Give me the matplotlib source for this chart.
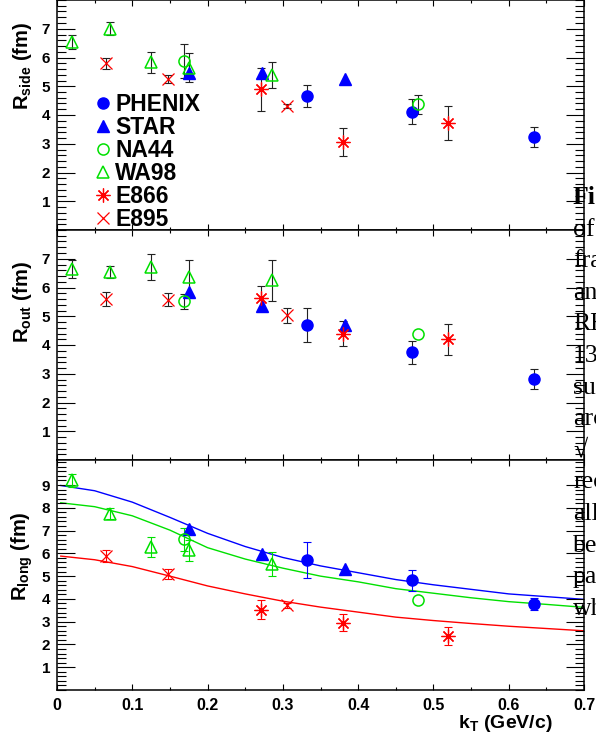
import numpy as np
import matplotlib
matplotlib.use('Agg')
import matplotlib.pyplot as plt
from matplotlib.ticker import MultipleLocator

plt.rcParams['font.family'] = ['Liberation Sans', 'DejaVu Sans']
plt.rcParams['font.weight'] = 'bold'
plt.rcParams['mathtext.fontset'] = 'custom'
plt.rcParams['mathtext.rm'] = 'Liberation Sans:bold'
plt.rcParams['mathtext.bf'] = 'Liberation Sans:bold'

# kT values (GeV/c) for each experiment
phenix_kt = [0.332, 0.471, 0.633]
star_kt = [0.175, 0.272, 0.383]
na44_kt = [0.169, 0.479]
wa98_kt = [0.020, 0.070, 0.125, 0.175, 0.285]
e866_kt = [0.271, 0.380, 0.520]
e895_kt = [0.065, 0.148, 0.305]

# R_side (fm)
phenix_side = [4.67, 4.12, 3.23]
phenix_side_err = [0.39, 0.44, 0.35]
star_side = [5.47, 5.45, 5.25]
na44_side = [5.88, 4.38]
na44_side_err = [0.58, 0.33]
wa98_side = [6.55, 7.00, 5.83, 5.65, 5.39]
wa98_side_err = [0.25, 0.22, 0.37, 0.5, 0.46]
e866_side = [4.89, 3.06, 3.73]
e866_side_err = [0.76, 0.49, 0.59]
e895_side = [5.80, 5.25, 4.31]
e895_side_err = [0.2, 0.15, 0.06]

# R_out (fm)
phenix_out = [4.70, 3.75, 2.81]
phenix_out_err = [0.59, 0.40, 0.34]
star_out = [5.84, 5.34, 4.70]
na44_out = [5.52, 4.39]
na44_out_err = [0.27, 0.0]
wa98_out = [6.64, 6.53, 6.71, 6.35, 6.25]
wa98_out_err = [0.3, 0.21, 0.44, 0.6, 0.71]
e866_out = [5.63, 4.40, 4.20]
e866_out_err = [0.42, 0.45, 0.54]
e895_out = [5.60, 5.57, 5.03]
e895_out_err = [0.24, 0.23, 0.25]

# R_long (fm)
phenix_long = [5.71, 4.82, 3.78]
phenix_long_err = [0.79, 0.47, 0.27]
star_long = [7.07, 5.97, 5.30]
na44_long = [6.61, 3.95]
na44_long_err = [0.5, 0.0]
wa98_long = [9.20, 7.74, 6.28, 6.13, 5.52]
wa98_long_err = [0.3, 0.24, 0.42, 0.47, 0.53]
e866_long = [3.53, 2.96, 2.37]
e866_long_err = [0.42, 0.39, 0.39]
e895_long = [5.87, 5.11, 3.72]
e895_long_err = [0.27, 0.22, 0.12]

# fit curves in the R_long panel
curve_kt = [0.005, 0.05, 0.1, 0.15, 0.2, 0.25, 0.3, 0.35, 0.4, 0.45, 0.5, 0.55, 0.6, 0.65, 0.7]
curve_blue = [8.98, 8.75, 8.25, 7.58, 6.88, 6.30, 5.82, 5.45, 5.15, 4.85, 4.62, 4.42, 4.22, 4.10, 3.98]
curve_green = [8.22, 8.05, 7.65, 7.02, 6.25, 5.75, 5.35, 5.00, 4.75, 4.45, 4.25, 4.05, 3.88, 3.76, 3.63]
curve_red = [5.88, 5.72, 5.42, 5.00, 4.57, 4.22, 3.90, 3.64, 3.42, 3.20, 3.05, 2.92, 2.80, 2.70, 2.60]

xtick_labels = ['0', '0.1', '0.2', '0.3', '0.4', '0.5', '0.6', '0.7']

# neighbouring page column that shows at the right edge
side_text = ['Fi', 'of', 'fra', 'an', 'RH', '13', 'su', 'arc', '\u221a', 'rec',
             'all', 'be', 'pa', 'wh']

BLUE = '#0000ff'
GREEN = '#00e000'
RED = '#ff0000'

styles = {
    'PHENIX': dict(marker='o', ms=8, color=BLUE, mfc=BLUE, mec=BLUE),
    'STAR': dict(marker='^', ms=8.5, color=BLUE, mfc=BLUE, mec=BLUE),
    'NA44': dict(marker='o', ms=8, color=GREEN, mfc='none', mec=GREEN, mew=1.1),
    'WA98': dict(marker='^', ms=9, color=GREEN, mfc='none', mec=GREEN, mew=1.1),
    'E866': dict(marker=(8, 2, 0), ms=10, color=RED, mec=RED, mew=0.9),
    'E895': dict(marker='x', ms=8, color=RED, mec=RED, mew=0.9),
}


def draw(ax, kt, r, err, name, ecolor):
    kt = np.asarray(kt)
    r = np.asarray(r)
    if err is not None:
        err = np.asarray(err)
        m = err > 0
        ax.errorbar(kt[m], r[m], yerr=err[m], fmt='none', ecolor=ecolor,
                    elinewidth=0.8, capsize=3, capthick=0.8, zorder=2)
    line, = ax.plot(kt, r, linestyle='none', zorder=3, label=name, **styles[name])
    return line


fig = plt.figure(figsize=(5.96, 7.44), dpi=100)
W, H = 596.0, 744.0
left, width = 57 / W, 527 / W
ax_side = fig.add_axes([left, 514 / H, width, 230 / H])
ax_out = fig.add_axes([left, 284 / H, width, 230 / H])
ax_long = fig.add_axes([left, 54 / H, width, 230 / H])

bar = '#222222'
handles = []
handles.append(draw(ax_side, phenix_kt, phenix_side, phenix_side_err, 'PHENIX', bar))
handles.append(draw(ax_side, star_kt, star_side, None, 'STAR', bar))
handles.append(draw(ax_side, na44_kt, na44_side, na44_side_err, 'NA44', bar))
handles.append(draw(ax_side, wa98_kt, wa98_side, wa98_side_err, 'WA98', bar))
handles.append(draw(ax_side, e866_kt, e866_side, e866_side_err, 'E866', bar))
handles.append(draw(ax_side, e895_kt, e895_side, e895_side_err, 'E895', bar))

draw(ax_out, phenix_kt, phenix_out, phenix_out_err, 'PHENIX', bar)
draw(ax_out, star_kt, star_out, None, 'STAR', bar)
draw(ax_out, na44_kt, na44_out, na44_out_err, 'NA44', bar)
draw(ax_out, wa98_kt, wa98_out, wa98_out_err, 'WA98', bar)
draw(ax_out, e866_kt, e866_out, e866_out_err, 'E866', bar)
draw(ax_out, e895_kt, e895_out, e895_out_err, 'E895', bar)

ax_long.plot(curve_kt, curve_blue, color=BLUE, lw=1.0, zorder=1)
ax_long.plot(curve_kt, curve_green, color=GREEN, lw=1.0, zorder=1)
ax_long.plot(curve_kt, curve_red, color=RED, lw=1.0, zorder=1)
draw(ax_long, phenix_kt, phenix_long, phenix_long_err, 'PHENIX', BLUE)
draw(ax_long, star_kt, star_long, None, 'STAR', BLUE)
draw(ax_long, na44_kt, na44_long, na44_long_err, 'NA44', GREEN)
draw(ax_long, wa98_kt, wa98_long, wa98_long_err, 'WA98', GREEN)
draw(ax_long, e866_kt, e866_long, e866_long_err, 'E866', RED)
draw(ax_long, e895_kt, e895_long, e895_long_err, 'E895', RED)

for ax, top in [(ax_side, 8), (ax_out, 8), (ax_long, 10.1)]:
    ax.set_xlim(0, 0.7)
    ax.set_ylim(0, top)
    ax.set_yticks(range(1, int(top)))
    ax.yaxis.set_minor_locator(MultipleLocator(0.2))
    ax.set_xticks(np.arange(0, 0.71, 0.1))
    ax.xaxis.set_minor_locator(MultipleLocator(0.05))
    ax.tick_params(axis='y', which='major', direction='in', length=13, width=0.8,
                   left=True, right=True, labelsize=11, pad=5)
    ax.tick_params(axis='y', which='minor', direction='in', length=6.5, width=0.8,
                   left=True, right=True)
    ax.tick_params(axis='x', which='major', direction='in', length=4.5, width=0.8,
                   top=True, bottom=True, labelsize=11.5, pad=6)
    ax.tick_params(axis='x', which='minor', direction='in', length=2.3, width=0.8,
                   top=True, bottom=True)
    for s in ax.spines.values():
        s.set_linewidth(1.1)

ax_side.set_xticklabels([])
ax_out.set_xticklabels([])
ax_long.set_xticklabels(xtick_labels)

ax_side.legend(handles=handles, loc='upper left', bbox_to_anchor=(0.069, 0.597),
               frameon=False, handlelength=0.8, handletextpad=0.15,
               labelspacing=0.0, borderpad=0, borderaxespad=0,
               prop=dict(weight='bold', size=16.5))

fig.text(22 / W, 1 - 66 / H, r'R$_{\mathbf{side}}$ (fm)', rotation=90,
         ha='center', va='center', fontsize=14.5, fontweight='bold')
fig.text(22 / W, 1 - 302 / H, r'R$_{\mathbf{out}}$ (fm)', rotation=90,
         ha='center', va='center', fontsize=14.5, fontweight='bold')
fig.text(22 / W, 1 - 556 / H, r'R$_{\mathbf{long}}$ (fm)', rotation=90,
         ha='center', va='center', fontsize=14.5, fontweight='bold')
fig.text(553 / W, 1 - 724 / H, r'k$_{\mathbf{T}}$ (GeV/c)', ha='right', va='center',
         fontsize=14, fontweight='bold')

for i, s in enumerate(side_text):
    fig.text(573 / W, 1 - (204 + 31.6 * i) / H, s, ha='left', va='baseline',
             fontsize=18.5, fontweight='bold' if i == 0 else 'normal',
             family=['Liberation Serif', 'DejaVu Serif'], zorder=5)

fig.savefig('out.png', dpi=100)
